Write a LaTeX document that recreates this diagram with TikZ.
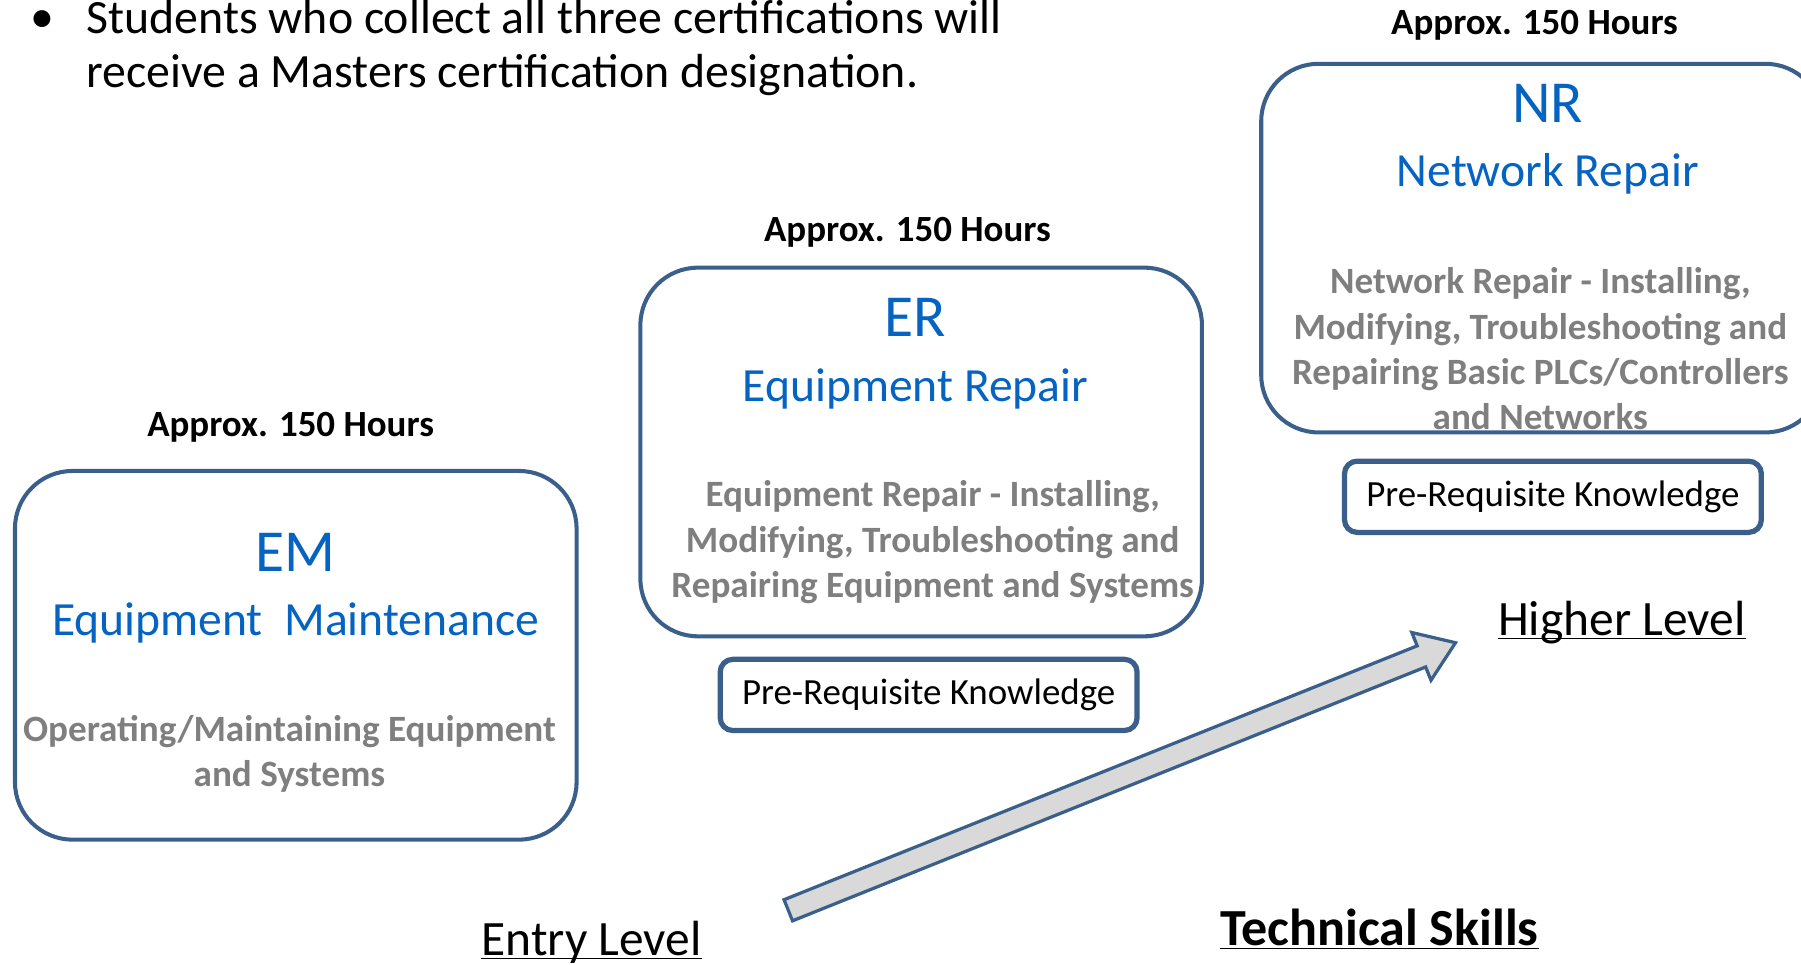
\documentclass[tikz,border=0pt]{standalone}
\usepackage{fontspec}
\setmainfont{Carlito}
\usetikzlibrary{positioning,calc,shapes.arrows}

\definecolor{boxline}{HTML}{3A5F8B}
\definecolor{codeblue}{HTML}{0563C1}
\definecolor{descgray}{HTML}{7F7F7F}
\definecolor{arrowfill}{HTML}{D9D9D9}

% underline that ignores the descenders
\newcommand\levelline[1]{\underline{\raisebox{0pt}[\height][0pt]{#1}}}

\begin{document}
\begin{tikzpicture}[
		x=0.02cm, y=-0.02cm,
		certbox/.style={draw=boxline, line width=2pt, rounded corners=1cm, minimum width=9.78cm, minimum height=6.42cm, inner sep=0pt},
		prereq/.style={draw=boxline, line width=2.6pt, rounded corners=0.22cm, minimum width=7.26cm, minimum height=1.24cm, font=\fontsize{18.3}{22}\selectfont},
		intro/.style={inner sep=0pt, font=\fontsize{23.7}{27}\selectfont},
		hours/.style={inner sep=0pt, anchor=base, font=\fontsize{18.3}{22}\selectfont\bfseries},
		code/.style={inner sep=0pt, anchor=base, text=codeblue, font=\fontsize{29.5}{34}\selectfont},
		title/.style={inner sep=0pt, anchor=base, text=codeblue, font=\fontsize{23.6}{28}\selectfont},
		desc/.style={inner sep=0pt, align=center, text=descgray, font=\fontsize{18.4}{22.5}\selectfont\bfseries},
		level/.style={inner sep=0pt, anchor=base, font=\fontsize{24.5}{28}\selectfont},
	]
		\useasboundingbox (0,0) rectangle (1568,840);

		\node (dot) [intro, anchor=base] at (37,28.5) {•};
		\node (note) [intro, anchor=north west, align=left] at (75,-0.5) {Students who collect all three certifications will\\receive a Masters certification designation.};

		\node (em) [certbox] at (257.5,570.5) {};
		\node (er) [certbox] at (802,393.5) {};
		\node (nr) [certbox] at (1342.5,216) {};

		\node (prer) [prereq, below=0.32cm of er, xshift=0.13cm] {Pre-Requisite Knowledge};
		\node (prnr) [prereq, below=0.42cm of nr, xshift=0.19cm] {Pre-Requisite Knowledge};

		\node (emhours) [hours] at ($(em.north)+(-4.5,-28.5)$) {Approx. 150 Hours};
		\node (erhours) [hours] at ($(er.north)+(-12,-21)$) {Approx. 150 Hours};
		\node (nrhours) [hours] at ($(nr.north)+(-6.5,-23.5)$) {Approx. 150 Hours};

		\node (emcode) [code] at ($(em.north)+(0,89.5)$) {EM};
		\node (emtitle) [title] at ($(em.north)+(0,145)$) {Equipment\ \ Maintenance};
		\node (emdesc) [desc] at ($(em.north)+(-5.5,248)$) {Operating/Maintaining Equipment\\and Systems};

		\node (ercode) [code] at ($(er.north)+(-5,61.5)$) {ER};
		\node (ertitle) [title] at ($(er.north)+(-5,118)$) {Equipment Repair};
		\node (erdesc) [desc] at ($(er.north)+(10,241)$) {Equipment Repair - Installing,\\Modifying, Troubleshooting and\\Repairing Equipment and Systems};

		\node (nrcode) [code] at ($(nr.north)+(5,52.5)$) {NR};
		\node (nrtitle) [title] at ($(nr.north)+(5,109)$) {Network Repair};
		\node (nrdesc) [desc] at ($(nr.north)+(-1.5,250)$) {Network Repair - Installing,\\Modifying, Troubleshooting and\\Repairing Basic PLCs/Controllers\\and Networks};

		\coordinate (start) at (685,793);
		\node (climb) [single arrow, draw=boxline, fill=arrowfill, line width=1.6pt, inner sep=0.17cm,
			minimum height=12.52cm, minimum width=0.84cm, single arrow head extend=0.25cm,
			single arrow tip angle=70, rotate=21.85, anchor=tail] at (start) {};

		\node (high) [level] at (1412,553) {\levelline{Higher Level}};
		\node (entry) [level] at (515,832) {\levelline{Entry Level}};
		\node (skills) [level, font=\fontsize{25.8}{30}\selectfont\bfseries] at (1201,823) {\levelline{Technical Skills}};
	\end{tikzpicture}
\end{document}
